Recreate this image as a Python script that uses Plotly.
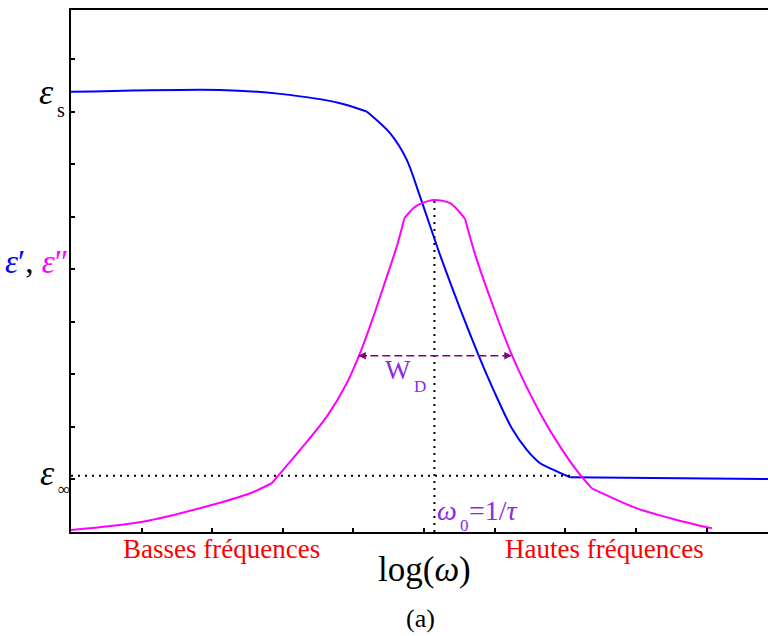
import plotly.graph_objects as go

# Debye relaxation sketch: real part eps' (blue) and loss eps'' (magenta) vs log(omega)
log_w_real = [0.0, 2.110, 2.960, 3.810, 4.188, 4.518, 4.755, 4.943, 5.251, 5.769,
              5.982, 6.242, 6.455, 6.643, 6.785, 7.068, 9.873]
eps_real = [8.381, 8.419, 8.343, 8.166, 8.006, 7.594, 7.086, 6.387, 5.181, 3.371,
            2.705, 1.975, 1.562, 1.309, 1.213, 1.042, 1.010]
real_breaks = [4, 15]            # corners of the eps' sketch

log_w_loss = [0.0, 1.016, 1.993, 2.535, 2.843, 3.244, 3.622, 3.905, 4.093, 4.282,
              4.472, 4.613, 4.721, 4.848, 4.967, 5.146, 5.368, 5.581, 5.747, 6.242,
              6.643, 6.926, 7.210, 7.375, 8.013, 8.579, 9.075]
eps_loss = [0.038, 0.196, 0.514, 0.737, 0.928, 1.562, 2.196, 2.832, 3.404, 4.101,
            4.863, 5.434, 5.975, 6.166, 6.261, 6.324, 6.261, 5.962, 5.181, 3.371,
            2.261, 1.625, 1.086, 0.832, 0.451, 0.229, 0.070]
loss_breaks = [4, 12, 17, 23]    # corners of the eps'' sketch

eps_inf = 1.07          # high-frequency limit
log_w0 = 5.146          # relaxation frequency omega0 = 1/tau
loss_peak = 6.324
eps_inf_end = 7.07      # where eps' reaches its plateau
wd_left, wd_right, wd_level = 4.069, 6.242, 3.358   # half-width W_D

X_MAX, Y_MAX = 9.87, 9.94
L, T, B, W, H = 71, 10, 104, 768, 636
PW, PH = W - L, H - T - B

FONT = "Liberation Serif"
VIOLET = "#8a2be2"
BLUE, MAGENTA = "#0000ff", "#ff00ff"


def px(xp, yp):
    """Pixel position -> paper coordinates."""
    return (xp - L) / PW, (H - B - yp) / PH


fig = go.Figure()


def add_piecewise(xs, ys, breaks, color):
    """Smooth pieces joined at sharp corners."""
    cuts = [0] + breaks + [len(xs) - 1]
    for a, b in zip(cuts[:-1], cuts[1:]):
        seg_x, seg_y = xs[a:b + 1], ys[a:b + 1]
        fig.add_trace(go.Scatter(
            x=seg_x, y=seg_y, mode="lines", hoverinfo="skip",
            line=dict(color=color, width=2,
                      shape="spline" if len(seg_x) > 2 else "linear", smoothing=0.8)))


add_piecewise(log_w_real, eps_real, real_breaks, BLUE)
add_piecewise(log_w_loss, eps_loss, loss_breaks, MAGENTA)

# eps_inf guide and omega0 guide
fig.add_trace(go.Scatter(x=[0, eps_inf_end], y=[eps_inf, eps_inf], mode="lines",
                         line=dict(color="black", width=2, dash="2px,5px"), hoverinfo="skip"))
fig.add_trace(go.Scatter(x=[log_w0, log_w0], y=[0, loss_peak], mode="lines",
                         line=dict(color="black", width=2, dash="2px,5px"), hoverinfo="skip"))

# W_D dashed double arrow
fig.add_trace(go.Scatter(x=[wd_left, wd_right], y=[wd_level, wd_level], mode="lines",
                         line=dict(color="#800080", width=1.5, dash="8px,4px"), hoverinfo="skip"))

annotations = []
for tip, off in ((wd_left, 10), (wd_right, -10)):
    annotations.append(dict(x=tip, y=wd_level, xref="x", yref="y", ax=off, ay=0,
                            axref="pixel", ayref="pixel", showarrow=True, text="",
                            arrowhead=2, arrowsize=1, arrowwidth=1.5, arrowcolor="#800080"))


def label(text, xp, yp, size, color="black", xanchor="center", yanchor="middle"):
    x, y = px(xp, yp)
    annotations.append(dict(text=text, x=x, y=y, xref="paper", yref="paper",
                            showarrow=False, xanchor=xanchor, yanchor=yanchor,
                            borderpad=0,
                            font=dict(family=FONT, size=size, color=color)))


# axis symbols (subscripts set as separate small labels beside the symbol)
label("<i>ε</i>", 55, 92, 36, xanchor="right")
label("s", 56, 110, 20, xanchor="left")
label("<i>ε</i>", 56, 473, 36, xanchor="right")
label("∞", 57, 489, 17, xanchor="left")
label(f"<span style='color:{BLUE}'><i>ε</i>′</span>, "
      f"<span style='color:{MAGENTA}'><i>ε</i>″</span>", 37, 262, 33)

# W_D and omega0
label("W", 412, 370, 27, color=VIOLET, xanchor="right")
label("D", 413, 386, 17, color=VIOLET, xanchor="left")
label("<i>ω</i>", 458, 510, 28, color=VIOLET, xanchor="right")
label("0", 459, 525, 17, color=VIOLET, xanchor="left")
label("=1/<i>τ</i>", 468, 510, 28, color=VIOLET, xanchor="left")

# bottom captions
label("Basses fréquences", 221, 549, 27, color="#ff0000")
label("Hautes fréquences", 604, 549, 27, color="#ff0000")
label("log(<i>ω</i>)", 424, 569, 35)
label("(a)", 420, 618, 26)

fig.update_layout(
    width=W, height=H,
    margin=dict(l=L, r=0, t=T, b=B),
    paper_bgcolor="white", plot_bgcolor="white",
    showlegend=False,
    annotations=annotations,
    xaxis=dict(range=[0, X_MAX], dtick=1, tick0=0, ticks="inside", ticklen=4,
               tickwidth=1.5, tickcolor="black", showticklabels=False,
               showline=True, linecolor="black", linewidth=2, mirror=True,
               showgrid=False, zeroline=False, fixedrange=True),
    yaxis=dict(range=[0, Y_MAX], dtick=1, tick0=0, ticks="inside", ticklen=4,
               tickwidth=1.5, tickcolor="black", showticklabels=False,
               showline=True, linecolor="black", linewidth=2,
               showgrid=False, zeroline=False, fixedrange=True),
)

fig.write_html("out.html", config={"displayModeBar": False})
